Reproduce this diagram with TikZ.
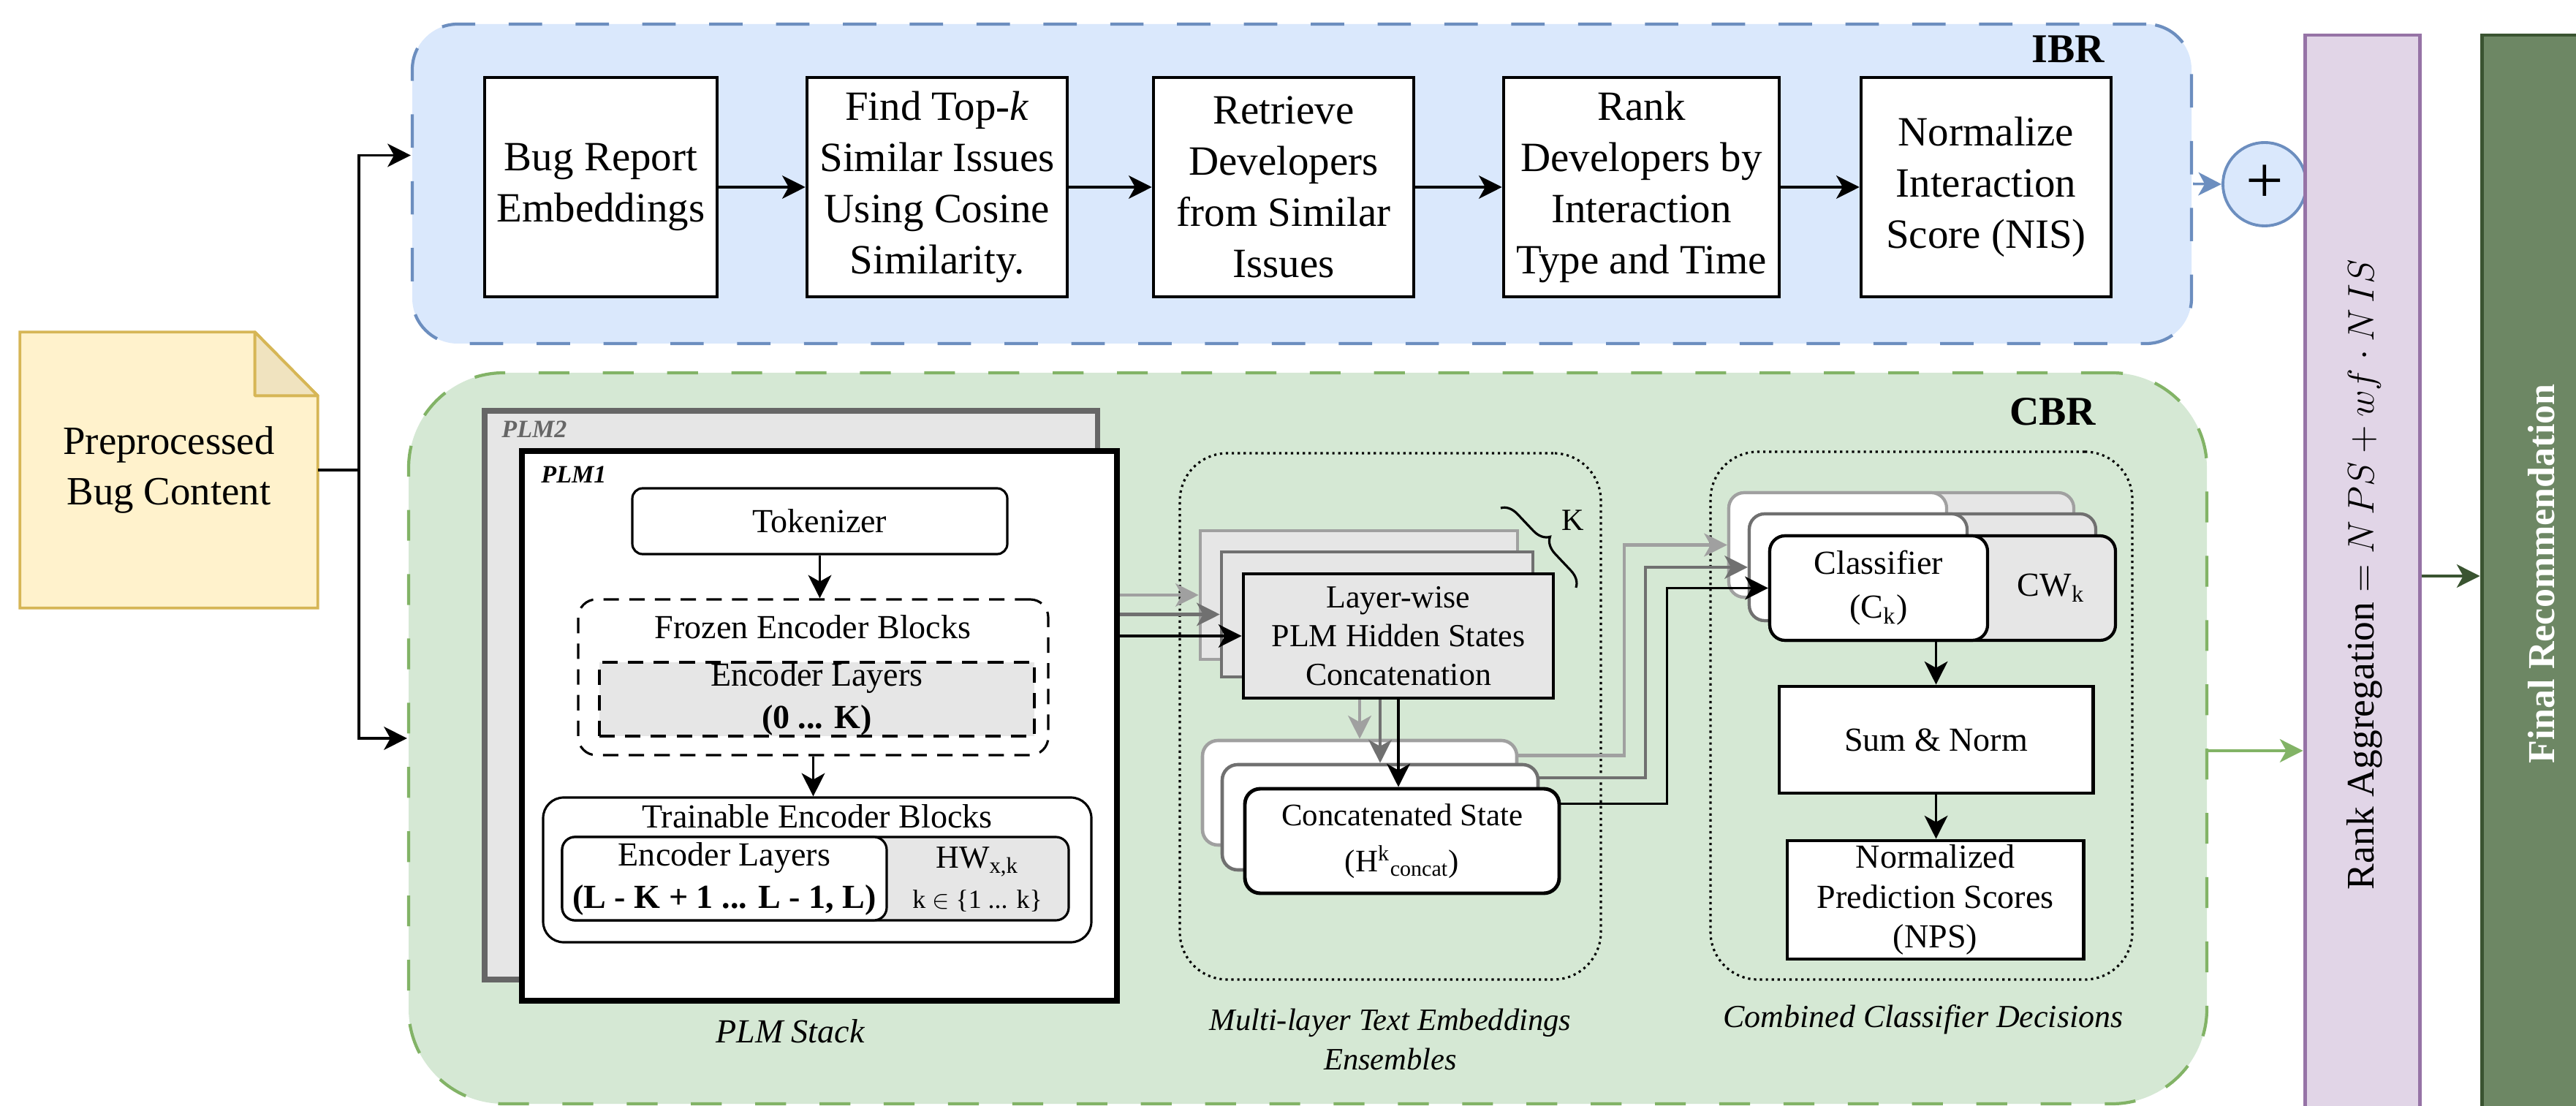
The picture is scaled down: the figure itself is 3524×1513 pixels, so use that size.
\documentclass[tikz,border=0pt]{standalone}
\usepackage{fontspec}
\setmainfont{Liberation Serif}
\usetikzlibrary{arrows.meta,decorations.pathreplacing}
\definecolor{ibrfill}{HTML}{DAE8FC}
\definecolor{ibrdraw}{HTML}{6C8EBF}
\definecolor{cbrfill}{HTML}{D5E8D4}
\definecolor{cbrdraw}{HTML}{82B366}
\definecolor{notefill}{HTML}{FFF2CC}
\definecolor{notedraw}{HTML}{D6B656}
\definecolor{notefold}{HTML}{F0E3BF}
\definecolor{gfill}{HTML}{E6E6E6}
\definecolor{lgray}{HTML}{A0A0A0}
\definecolor{mgray}{HTML}{707070}
\definecolor{plmtwo}{HTML}{666666}
\definecolor{rankfill}{HTML}{E1D5E7}
\definecolor{rankdraw}{HTML}{9673A6}
\definecolor{finfill}{HTML}{6D8764}
\definecolor{findraw}{HTML}{3A5431}
\newcommand\bx[7]{\node[#6,minimum width={(#4-#2)*0.01cm},minimum height={(#5-#3)*0.01cm}] (#1) at ({(#2+#4)/2},{(#3+#5)/2}) {#7};}
\newcommand\fsz[2]{\fontsize{#1}{#2}\selectfont}
\tikzset{
  base/.style={inner sep=0pt, align=center},
  container/.style={base, line width=1.2pt},
  ibrbox/.style={base, draw=black, fill=white, line width=1.3pt, font=\fsz{16.2}{19.9}},
  plmbox/.style={base, draw=black, fill=white, line width=0.9pt, font=\fsz{13.1}{16.5}},
  dotbox/.style={base, draw=black, line width=0.9pt, dash pattern=on 0.9pt off 1.4pt, rounded corners=0.65cm},
  clsg/.style={base, fill=gfill, line width=1.2pt, rounded corners=6pt},
  clsw/.style={base, fill=white, line width=1.2pt, rounded corners=6pt, font=\fsz{13.1}{17}},
  combox/.style={base, draw=black, fill=white, line width=1.4pt, font=\fsz{13.1}{15.6}},
  arr/.style={-{Stealth[length=9pt,width=9pt,inset=2.5pt]}, line width=1.1pt, draw=black},
  garr/.style={arr, draw=lgray, line width=1.2pt},
  marr/.style={arr, draw=mgray, line width=1.2pt},
  grarr/.style={arr, draw=cbrdraw},
  dgarr/.style={arr, draw=findraw},
  barr/.style={arr, draw=ibrdraw, line width=1pt},
}
\begin{document}
\begin{tikzpicture}[x=0.01cm,y=-0.01cm]
\useasboundingbox (0,0) rectangle (3524,1513);
\clip (0,0) rectangle (3524,1513);

% containers
\bx{ibr}{564}{33}{2998}{470}{container, fill=ibrfill, draw=ibrdraw, rounded corners=0.62cm, dash pattern=on 13pt off 13pt}{}
\bx{cbr}{559}{510}{3019}{1510}{container, fill=cbrfill, draw=cbrdraw, rounded corners=1.3cm, dash pattern=on 12pt off 13pt}{}
\node[font=\bfseries\fsz{15.9}{18}] (ibrl) at (2829,67) {IBR};
\node[font=\bfseries\fsz{15.9}{18}] (cbrl) at (2808,563) {CBR};

% note
\bx{note}{28}{455}{434}{831}{base}{}
\draw[draw=notedraw, fill=notefill, line width=1.1pt] (note.north west) -- ([xshift=-0.86cm]note.north east) -- ([yshift=-0.87cm]note.north east) -- (note.south east) -- (note.south west) -- cycle;
\draw[draw=notedraw, fill=notefold, line width=1.1pt, line join=round] ([xshift=-0.86cm]note.north east) -- ([xshift=-0.86cm,yshift=-0.87cm]note.north east) -- ([yshift=-0.87cm]note.north east) -- cycle;
\node[font=\fsz{15.6}{19.6}, align=center] (notet) at (note.center) {Preprocessed\\Bug Content};

% IBR boxes
\bx{b1}{663}{106}{981}{406}{ibrbox}{Bug Report\\Embeddings}
\bx{b2}{1104}{106}{1460}{406}{ibrbox}{Find Top-\textit{k}\\Similar Issues\\Using Cosine\\Similarity.}
\bx{b3}{1578}{106}{1934}{406}{ibrbox}{Retrieve\\Developers\\from Similar\\Issues}
\bx{b4}{2057}{106}{2434}{406}{ibrbox}{Rank\\Developers by\\Interaction\\Type and Time}
\bx{b5}{2546}{106}{2888}{406}{ibrbox}{Normalize\\Interaction\\Score (NIS)}
\draw[arr] (b1.east) -- (b2.west);
\draw[arr] (b2.east) -- (b3.west);
\draw[arr] (b3.east) -- (b4.west);
\draw[arr] (b4.east) -- (b5.west);

% plus
\node[circle, draw=ibrdraw, fill=ibrfill, line width=1.1pt, minimum size=1.14cm, inner sep=0pt, font=\fsz{26}{26}] (plus) at (3098,252) {+};
\draw[barr] (ibr.east) -- (plus.west);

% right bars
\bx{rank}{3153}{48}{3310}{1528}{base, draw=rankdraw, fill=rankfill, line width=1.4pt}{}
\bx{final}{3395}{48}{3560}{1528}{base, draw=findraw, fill=finfill, line width=1.4pt}{}
\node[rotate=90, font=\fsz{15.2}{18}] (rankt) at (3235,786) {Rank Aggregation $= N\,PS + wf\cdot N\,IS$};
\node[rotate=90, text=white, font=\bfseries\fsz{14.8}{17}] (fint) at (3477,785) {Final Recommendation};

% PLM stack
\bx{plm2}{663}{562}{1501}{1340}{base, draw=plmtwo, fill=gfill, line width=2pt}{}
\bx{plm1}{714}{617}{1528}{1369}{base, draw=black, fill=white, line width=2.3pt}{}
\node[anchor=west, text=plmtwo, font=\bfseries\itshape\fsz{9.7}{11}] (p2l) at (674,587) {PLM2};
\node[anchor=west, font=\bfseries\itshape\fsz{9.7}{11}] (p1l) at (728,649) {PLM1};
\bx{tok}{865}{668}{1378}{758}{plmbox, rounded corners=4pt}{Tokenizer}
\bx{frz}{791}{820}{1434}{1033}{base, draw=black, line width=0.9pt, dash pattern=on 6pt off 4pt, rounded corners=7pt}{}
\node[font=\fsz{13.1}{16.5}] (frzt) at (1112,858) {Frozen Encoder Blocks};
\bx{frzl}{820}{906}{1415}{1007}{plmbox, fill=gfill, dash pattern=on 6pt off 4pt}{Encoder Layers\\\textbf{(0 ... K)}}
\bx{trn}{743}{1091}{1493}{1289}{base, draw=black, fill=white, line width=0.9pt, rounded corners=8pt}{}
\node[font=\fsz{13.1}{16.5}] (trnt) at (1118,1117) {Trainable Encoder Blocks};
\bx{hw}{769}{1145}{1462}{1259}{base, draw=black, fill=gfill, line width=0.9pt, rounded corners=5pt}{}
\bx{trnl}{769}{1145}{1213}{1259}{plmbox, rounded corners=5pt}{Encoder Layers\\\textbf{(L - K + 1 ... L - 1, L)}}
\node[font=\fsz{12.5}{15.6}, align=center] (hwt) at (1337,1203) {HW\textsubscript{x,k}\\{\fsz{10.2}{12}k $\in$ \{1 ... k\}}};
\node[font=\itshape\fsz{13.1}{16}] (plmst) at (1081,1411) {PLM Stack};
\draw[arr] (tok.south) -- (tok.south |- frz.north);
\draw[arr] (frz.south) -- (frz.south |- trn.north);

% multi-layer text embeddings
\bx{mlt}{1614}{620}{2190}{1340}{dotbox}{}
\bx{lwb}{1642}{726}{2076}{902}{base, draw=lgray, fill=gfill, line width=1.3pt}{}
\bx{lwm}{1671}{755}{2097}{926}{base, draw=mgray, fill=gfill, line width=1.3pt}{}
\bx{lwf}{1701}{785}{2125}{955}{base, draw=black, fill=gfill, line width=1.4pt, font=\fsz{12.5}{15.1}}{Layer-wise\\PLM Hidden States\\Concatenation}
\bx{csb}{1645}{1013}{2075}{1156}{base, draw=lgray, fill=white, line width=1.3pt, rounded corners=6pt}{}
\bx{csm}{1672}{1046}{2104}{1190}{base, draw=mgray, fill=white, line width=1.3pt, rounded corners=6pt}{}
\bx{csf}{1703}{1079}{2133}{1222}{base, draw=black, fill=white, line width=1.4pt, rounded corners=6pt, font=\fsz{12.2}{15}}{Concatenated State\\[3pt](H\textsuperscript{k}\textsubscript{concat})}
\draw[decorate, decoration={brace, amplitude=0.22cm}, line width=0.9pt] (2053,695) -- (2156,804);
\node[font=\fsz{12}{14}] (kl) at (2152,712) {K};
\node[font=\itshape\fsz{12.1}{15.6}, align=center] (mltl) at (1902,1422) {Multi-layer Text Embeddings\\Ensembles};
\draw[garr] (plm1.east |- lwb.west) -- (lwb.west);
\draw[marr] (plm1.east |- lwm.west) -- (lwm.west);
\draw[arr] (plm1.east |- lwf.west) -- (lwf.west);
\draw[garr] (csb.north |- lwf.south) -- (csb.north);
\draw[marr] (csm.north |- lwf.south) -- (csm.north);
\draw[arr] (lwf.south) -- (lwf.south |- csf.north);

% combined classifier decisions
\bx{ccd}{2340}{618}{2917}{1340}{dotbox}{}
\bx{clb}{2365}{674}{2837}{817}{clsg, draw=lgray}{}
\bx{clbw}{2365}{674}{2663}{817}{clsw, draw=lgray}{}
\bx{clm}{2393}{703}{2867}{849}{clsg, draw=mgray}{}
\bx{clmw}{2393}{703}{2691}{849}{clsw, draw=mgray}{}
\bx{clf}{2421}{733}{2894}{876}{clsg, draw=black}{}
\bx{clfw}{2421}{733}{2719}{876}{clsw, draw=black}{Classifier\\(C\textsubscript{k})}
\node[font=\fsz{13.1}{16}] (cwt) at (2806,804) {CW\textsubscript{k}};
\bx{sum}{2434}{939}{2863}{1085}{combox}{Sum \& Norm}
\bx{nps}{2445}{1150}{2850}{1312}{combox}{Normalized\\Prediction Scores\\(NPS)}
\node[font=\itshape\fsz{12.5}{15}] (ccdl) at (2631,1395) {Combined Classifier Decisions};
\draw[garr] ([yshift=0.51cm]csb.east) -- ++(145,0) |- (clb.west);
\draw[marr] ([yshift=0.54cm]csm.east) -- ++(145,0) |- (clm.west);
\draw[arr] ([yshift=0.51cm]csf.east) -- ++(145,0) |- (clf.west);
\draw[arr] (sum.north |- clf.south) -- (sum.north);
\draw[arr] (sum.south) -- (sum.south |- nps.north);

% input and output connectors
\coordinate (jn) at (491,643);
\draw[arr] (note.east) -- (jn) |- ([yshift=0.39cm]ibr.west);
\draw[arr] (jn) |- (cbr.west);
\draw[grarr] ([yshift=-0.17cm]cbr.east) -- ([yshift=-0.17cm]cbr.east -| rank.west);
\draw[dgarr] (rank.east) -- (final.west);
\end{tikzpicture}
\end{document}
